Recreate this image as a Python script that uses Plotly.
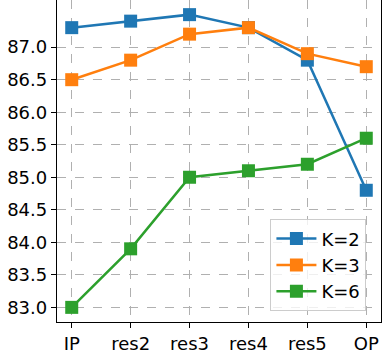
import plotly.graph_objects as go

# stages along the x axis
stages = ["IP", "res2", "res3", "res4", "res5", "OP"]

# accuracy per stage for each K
k2 = [87.3, 87.4, 87.5, 87.3, 86.8, 84.8]
k3 = [86.5, 86.8, 87.2, 87.3, 86.9, 86.7]
k6 = [83.0, 83.9, 85.0, 85.1, 85.2, 85.6]

y_ticks = [83.0, 83.5, 84.0, 84.5, 85.0, 85.5, 86.0, 86.5, 87.0]

series = [("K=2", k2, "#1f77b4"), ("K=3", k3, "#ff7f0e"), ("K=6", k6, "#2ca02c")]
xs = list(range(len(stages)))

fig = go.Figure()
for name, vals, col in series:
    fig.add_trace(go.Scatter(
        x=xs, y=vals, name=name, mode="lines+markers",
        line=dict(color=col, width=2.5),
        marker=dict(symbol="square", size=13, color=col),
    ))

axis_common = dict(
    showline=True, mirror=True, linecolor="black", linewidth=1.3,
    ticks="outside", ticklen=5, tickcolor="black", tickwidth=1.2,
    showgrid=True, gridcolor="#b0b0b0", griddash="dash", gridwidth=1.3,
    zeroline=False,
    tickfont=dict(family="DejaVu Sans", size=18, color="black"),
)

fig.update_xaxes(tickvals=xs, ticktext=stages, range=[-0.25, 5.25], **axis_common)
fig.update_yaxes(tickvals=y_ticks, tickformat=".1f", range=[82.775, 87.725], **axis_common)

fig.update_layout(
    width=382, height=355,
    margin=dict(l=57, r=1, t=0, b=33),
    plot_bgcolor="white", paper_bgcolor="white",
    legend=dict(
        x=0.955, y=0.033, xanchor="right", yanchor="bottom",
        bgcolor="rgba(255,255,255,0.8)", bordercolor="#cccccc", borderwidth=1,
        font=dict(family="DejaVu Sans", size=18, color="black"),
        itemwidth=40,
    ),
)

# page body has a default 8px margin, drop it so the figure sits at the corner
fig.write_html("out.html", config={"displayModeBar": False},
               post_script="document.body.style.margin='0';")
